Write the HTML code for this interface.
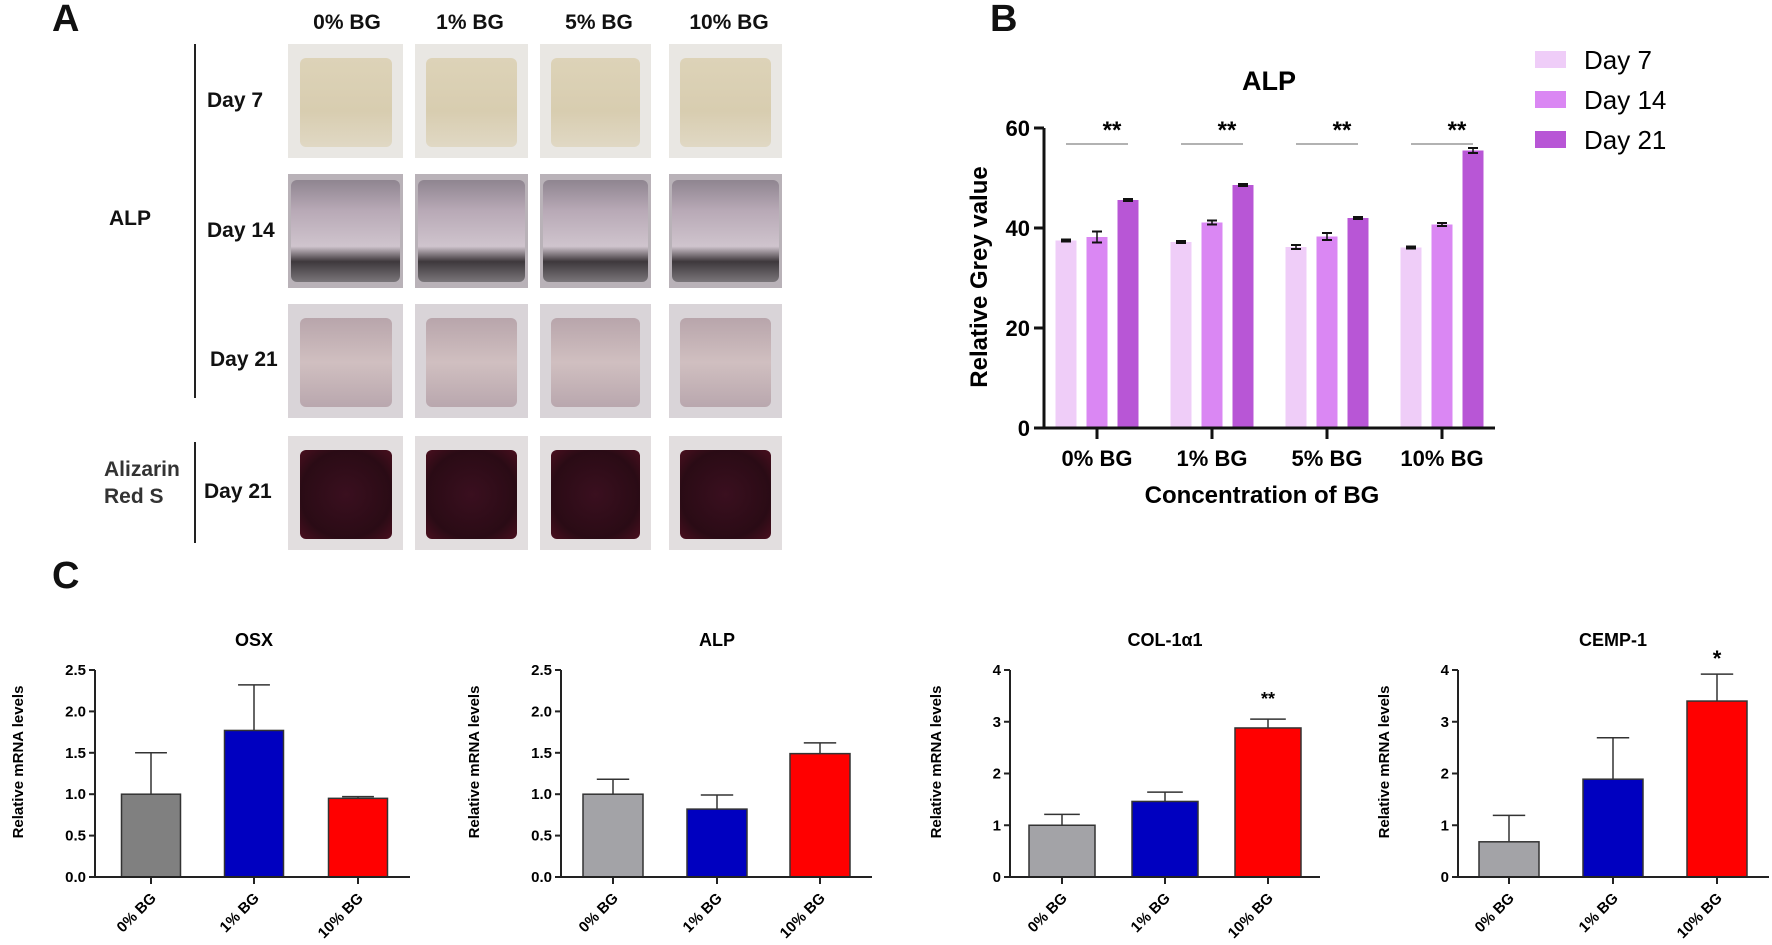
<!DOCTYPE html>
<html><head><meta charset="utf-8"><style>
body{margin:0;background:#fff;width:1772px;height:945px;overflow:hidden;position:relative;font-family:"Liberation Sans",Arial,sans-serif}
.lbl{position:absolute;font-weight:bold;color:#111;white-space:nowrap}
.ph{position:absolute;overflow:hidden}
.in{position:absolute;left:10%;top:12%;width:80%;height:78%;border-radius:6px}
</style></head><body>
<div class="lbl" style="left:52px;top:-2px;font-size:38px">A</div>
<div class="lbl" style="left:990px;top:-2px;font-size:38px">B</div>
<div class="lbl" style="left:52px;top:555px;font-size:38px">C</div>

<div>
<div class="lbl" style="left:300px;top:11px;font-size:21px;width:94px;text-align:center">0% BG</div>
<div class="lbl" style="left:423px;top:11px;font-size:21px;width:94px;text-align:center">1% BG</div>
<div class="lbl" style="left:552px;top:11px;font-size:21px;width:94px;text-align:center">5% BG</div>
<div class="lbl" style="left:676px;top:11px;font-size:21px;width:106px;text-align:center">10% BG</div>
<div style="position:absolute;left:194px;top:44px;width:2px;height:354px;background:#222"></div>
<div style="position:absolute;left:194px;top:442px;width:2px;height:101px;background:#222"></div>
<div class="lbl" style="left:109px;top:207px;font-size:21px">ALP</div>
<div class="lbl" style="left:104px;top:456px;font-size:21px;line-height:27px;color:#333">Alizarin<br>Red S</div>
<div class="lbl" style="left:207px;top:89px;font-size:21px">Day 7</div>
<div class="lbl" style="left:207px;top:219px;font-size:21px">Day 14</div>
<div class="lbl" style="left:210px;top:348px;font-size:21px">Day 21</div>
<div class="lbl" style="left:204px;top:480px;font-size:21px">Day 21</div>
<div id="photos"></div>
</div>

<svg id="chart" width="1772" height="945" style="position:absolute;left:0;top:0"></svg>

<script>
// Panel B data
const bCategories = ["0% BG","1% BG","5% BG","10% BG"];
const bSeries = ["Day 7","Day 14","Day 21"];
const bDay7 = [37.5,37.2,36.2,36.1];
const bDay14 = [38.2,41.1,38.3,40.7];
const bDay21 = [45.6,48.6,42.0,55.5];
const bErr7 = [0.2,0.2,0.4,0.2];
const bErr14 = [1.1,0.4,0.7,0.3];
const bErr21 = [0.2,0.2,0.2,0.5];
const bTicks = [0,20,40,60];
const bSig = ["**","**","**","**"];
// Panel C data
const cCategories = ["0% BG","1% BG","10% BG"];
const osxVals = [1.0,1.77,0.95];
const osxErr = [0.5,0.55,0.02];
const alpVals = [1.0,0.82,1.49];
const alpErr = [0.18,0.17,0.13];
const colVals = [1.0,1.46,2.88];
const colErr = [0.21,0.18,0.17];
const cempVals = [0.68,1.89,3.4];
const cempErr = [0.51,0.8,0.52];
const ticks25 = [0,0.5,1.0,1.5,2.0,2.5];
const ticks4 = [0,1,2,3,4];
const colSig = ["","","**"];
const cempSig = ["","","*"];

const NS="http://www.w3.org/2000/svg";
const svg=document.getElementById('chart');
function mk(tag,attrs,parent,text){const e=document.createElementNS(NS,tag);for(const k in attrs)e.setAttribute(k,attrs[k]);if(text!==undefined)e.textContent=text;(parent||svg).appendChild(e);return e;}

// photos
const photos=document.getElementById('photos');
const colX=[288,415,540,669], colW=[115,113,111,113];
const rowY=[44,174,304,436];
const rowBg=["#e9e7e3","#b9b2b8","#d9d4d8","#e2dedf"];
const rowInner=[
 "linear-gradient(180deg,#ddd3b8,#d8cdb0 60%,#e0d8c4)",
 "linear-gradient(180deg,#8f8590 0%,#b8a9b6 30%,#cfc4cd 65%,#3e383c 80%,#7a767a 100%)",
 "linear-gradient(180deg,#b8a5ab,#d0bfc0 50%,#b9a7ae)",
 "radial-gradient(ellipse at 50% 50%,#3a0f1f,#2a0b15 70%,#4a0f1f)"];
const rowNames=["day7","day14","day21","ars-day21"];
for(let r=0;r<4;r++)for(let c=0;c<4;c++){
 const d=document.createElement('div');
 d.className='ph';
 
 
 d.style.left=colX[c]+'px';d.style.top=rowY[r]+'px';d.style.width=colW[c]+'px';d.style.height='114px';
 d.style.background=rowBg[r];
 const inn=document.createElement('div');
 inn.className='in';
 if(r===1){inn.style.left='3%';inn.style.width='94%';inn.style.top='5%';inn.style.height='90%';}
 inn.style.background=rowInner[r];
 d.appendChild(inn);
 photos.appendChild(d);
}

// Panel B
const bAxisX=1044,bY0=428,bYTop=128,bMax=60;
const bY=v=>bY0-(v/bMax)*(bY0-bYTop);
const bGroupX=i=>1097+i*115;
const bColors=["#efcdf8","#da87f3","#b856d6"];
const bVals=[bDay7,bDay14,bDay21], bErrs=[bErr7,bErr14,bErr21];
const gB=mk('g',{});


mk('text',{x:1269,y:90,'font-size':27,'font-weight':'bold','text-anchor':'middle'},gB,'ALP');
bCategories.forEach((cat,i)=>{
 for(let s=0;s<3;s++){
  const cx=bGroupX(i)+(s-1)*31, v=bVals[s][i], e=bErrs[s][i];
  const r=mk('rect',{x:cx-10.5,y:bY(v),width:21,height:bY0-bY(v),fill:bColors[s]},gB);
  
  
  mk('line',{x1:cx,x2:cx,y1:bY(v+e),y2:bY(v-e),stroke:'#111','stroke-width':1.5},gB);
  mk('line',{x1:cx-5,x2:cx+5,y1:bY(v+e),y2:bY(v+e),stroke:'#111','stroke-width':2},gB);
  mk('line',{x1:cx-5,x2:cx+5,y1:bY(v-e),y2:bY(v-e),stroke:'#111','stroke-width':2},gB);
 }
 mk('line',{x1:bGroupX(i)-31,x2:bGroupX(i)+31,y1:144,y2:144,stroke:'#999','stroke-width':1.5},gB);
 mk('text',{x:bGroupX(i)+15,y:138,'font-size':24,'font-weight':'bold','text-anchor':'middle'},gB,bSig[i]);
 mk('line',{x1:bGroupX(i),x2:bGroupX(i),y1:bY0,y2:bY0+11,stroke:'#111','stroke-width':3},gB);
 const t=mk('text',{x:bGroupX(i),y:466,'font-size':22,'font-weight':'bold','text-anchor':'middle'},gB,cat);
 
 
});
mk('line',{x1:bAxisX,x2:bAxisX,y1:bYTop,y2:bY0+1.5,stroke:'#111','stroke-width':3},gB);
mk('line',{x1:bAxisX-1.5,x2:1495,y1:bY0,y2:bY0,stroke:'#111','stroke-width':3},gB);
bTicks.forEach(t=>{
 mk('line',{x1:bAxisX-10,x2:bAxisX,y1:bY(t),y2:bY(t),stroke:'#111','stroke-width':3},gB);
 mk('text',{x:bAxisX-14,y:bY(t)+8,'font-size':22,'font-weight':'bold','text-anchor':'end'},gB,t);
});
const byl=mk('text',{x:0,y:0,'font-size':24,'font-weight':'bold','text-anchor':'middle',transform:'translate(987,277) rotate(-90)'},gB,'Relative Grey value');


const bxl=mk('text',{x:1262,y:503,'font-size':24,'font-weight':'bold','text-anchor':'middle'},gB,'Concentration of BG');


bSeries.forEach((s,i)=>{
 const g=mk('g',{},gB);
 
 
 mk('rect',{x:1535,y:51+i*40,width:31,height:17,fill:bColors[i]},g);
 mk('text',{x:1584,y:69+i*40,'font-size':26},g,s);
});

// Panel C
function cChart(name,title,vals,errs,sig,ticks,max,axisX,offs,barW,axisEnd,gray){
 const y0=877,yTop=670;
 const Y=v=>y0-(v/max)*(y0-yTop);
 const X=i=>axisX+offs[i];
 const g=mk('g',{});
 
 
 const cols=[gray,'#0000c0','#ff0000'];
 mk('text',{x:X(1),y:646,'font-size':18,'font-weight':'bold','text-anchor':'middle'},g,title);
 cCategories.forEach((c,i)=>{
  const v=vals[i],e=errs[i];
  mk('line',{x1:X(i),x2:X(i),y1:Y(v),y2:Y(v+e),stroke:'#333','stroke-width':1.5},g);
  mk('line',{x1:X(i)-barW*0.27,x2:X(i)+barW*0.27,y1:Y(v+e),y2:Y(v+e),stroke:'#333','stroke-width':1.5},g);
  const r=mk('rect',{x:X(i)-barW/2,y:Y(v),width:barW,height:y0-Y(v),fill:cols[i],stroke:'#333','stroke-width':1.5},g);
  
  
  if(sig[i])mk('text',{x:X(i),y:Y(v+e)-(sig[i]==='*'?8:14),'font-size':sig[i]==='*'?22:18,'font-weight':'bold','text-anchor':'middle'},g,sig[i]);
  mk('line',{x1:X(i),x2:X(i),y1:y0,y2:y0+7,stroke:'#222','stroke-width':2},g);
  mk('text',{x:0,y:0,'font-size':15,'font-weight':'bold','text-anchor':'end',transform:`translate(${X(i)+6},${y0+22}) rotate(-45)`},g,c);
 });
 mk('line',{x1:axisX,x2:axisX,y1:yTop,y2:y0+1,stroke:'#222','stroke-width':2},g);
 mk('line',{x1:axisX-1,x2:axisEnd,y1:y0,y2:y0,stroke:'#222','stroke-width':2},g);
 ticks.forEach(t=>{
  mk('line',{x1:axisX-6,x2:axisX,y1:Y(t),y2:Y(t),stroke:'#222','stroke-width':2},g);
  mk('text',{x:axisX-9,y:Y(t)+5,'font-size':15,'font-weight':'bold','text-anchor':'end'},g,max===4?t:t.toFixed(1));
 });
 return g;
}
cChart('osx-chart','OSX',osxVals,osxErr,["","",""],ticks25,2.5,95,[56,159,263],59,410,'#808080');
cChart('alp-mrna-chart','ALP',alpVals,alpErr,["","",""],ticks25,2.5,561,[52,156,259],60,872,'#a3a3a7');
cChart('col1a1-chart','COL-1\u03b11',colVals,colErr,colSig,ticks4,4,1010,[52,155,258],66,1320,'#a3a3a7');
cChart('cemp1-chart','CEMP-1',cempVals,cempErr,cempSig,ticks4,4,1458,[51,155,259],60,1769,'#a3a3a7');
[[17,'osx'],[473,'alp'],[935,'col'],[1383,'cemp']].forEach(([x,n])=>{
 const t=mk('text',{x:0,y:0,'font-size':15,'font-weight':'bold','text-anchor':'middle',transform:`translate(${x+6},762) rotate(-90)`},svg,'Relative mRNA levels');
 
 
});
</script>
</body></html>
